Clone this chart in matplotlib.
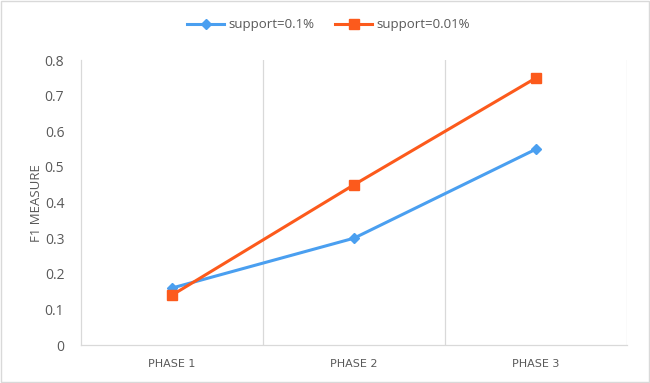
import matplotlib
matplotlib.use("Agg")
import matplotlib.pyplot as plt
from matplotlib.patches import Rectangle

phases = ["PHASE 1", "PHASE 2", "PHASE 3"]
support_01 = [0.16, 0.30, 0.55]
support_001 = [0.14, 0.45, 0.75]
yticks = [0, 0.1, 0.2, 0.3, 0.4, 0.5, 0.6, 0.7, 0.8]

plt.rcParams['font.family'] = ['Open Sans', 'DejaVu Sans']
grey = '#595959'
gridc = '#d9d9d9'

fig = plt.figure(figsize=(6.5, 3.83), dpi=100)
ax = fig.add_axes([0.1246, 0.0992, 0.84, 0.7438])

x = list(range(len(phases)))
ax.plot(x, support_01, color='#4a9ff0', lw=2.2, marker='D', ms=5, label='support=0.1%')
ax.plot(x, support_001, color='#fc5a1c', lw=2.2, marker='s', ms=7.5, label='support=0.01%')

ax.set_xlim(-0.5, 2.5)
ax.set_ylim(0, 0.8)
ax.set_yticks(yticks)
ax.set_yticklabels([f"{v:g}" for v in yticks], color=grey, fontsize=10)
ax.set_xticks(x)
ax.set_xticklabels(phases, color=grey, fontsize=8)
for lab in ax.get_xticklabels():
    lab.set_fontfamily(['DejaVu Sans'])
ax.tick_params(length=0, pad=10)
ax.tick_params(axis='y', pad=12)

for b in [0.5, 1.5, 2.5]:
    ax.axvline(b, color=gridc, lw=0.9, zorder=0)
for s in ['top', 'right']:
    ax.spines[s].set_visible(False)
for s in ['left', 'bottom']:
    ax.spines[s].set_color(gridc)
    ax.spines[s].set_linewidth(0.9)

ax.set_ylabel('F1 MEASURE', color=grey, fontsize=9.5, labelpad=1)

fig.legend(loc='center', bbox_to_anchor=(0.505, 0.935), ncol=2, frameon=False,
           fontsize=9.5, labelcolor=grey, handlelength=2.8, columnspacing=1.6, handletextpad=0.3)

fig.patches.append(Rectangle((0.002, 0.002), 0.996, 0.996, transform=fig.transFigure,
                             fill=False, edgecolor=gridc, lw=1))

fig.savefig('out.png', dpi=100)
